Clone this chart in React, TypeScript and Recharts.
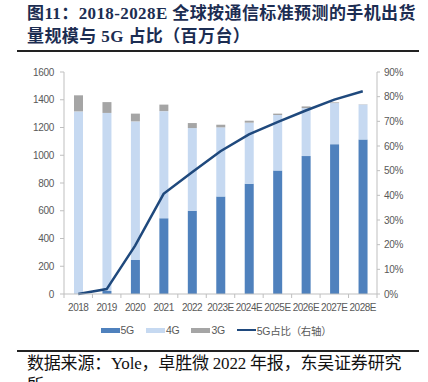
import { Bar, ComposedChart, Legend, Line, XAxis, YAxis } from 'recharts'

const years = ['2018', '2019', '2020', '2021', '2022', '2023E', '2024E', '2025E', '2026E', '2027E', '2028E']
const shipments5G = [0, 22, 245, 546, 600, 703, 794, 890, 994, 1080, 1114]
const shipments4G = [1316, 1283, 999, 772, 596, 498, 441, 400, 346, 296, 251]
const shipments3G = [116, 78, 56, 47, 36, 19, 14, 10, 12, 5, 2]
const share5G = [0, 2.0, 19.6, 40.6, 49.4, 57.9, 64.7, 69.7, 74.4, 78.8, 82.2]

const leftTicks = [0, 200, 400, 600, 800, 1000, 1200, 1400, 1600]
const rightTicks = [0, 10, 20, 30, 40, 50, 60, 70, 80, 90]

const data = years.map((year, i) => ({
  year,
  g5: shipments5G[i],
  g4: shipments4G[i],
  g3: shipments3G[i],
  share: share5G[i],
}))

const AXIS_GRAY = '#BFBFBF'
const TEXT_GRAY = '#595959'
const SANS = '"Liberation Sans", Arial, sans-serif'
const tickFont = { fontSize: 10, fill: TEXT_GRAY, fontFamily: SANS, style: { letterSpacing: -0.3 } }

const legendItems = [
  { label: '5G', color: '#4F81BD', kind: 'bar' },
  { label: '4G', color: '#C6D9F1', kind: 'bar' },
  { label: '3G', color: '#A5A5A5', kind: 'bar' },
  { label: '5G占比（右轴）', color: '#1F497D', kind: 'line' },
]

// plot spans 64..377 px, 11 categories
const STEP = 313 / years.length

function YearTick(props: any) {
  const { x, y, payload, index } = props
  return (
    <g>
      <line x1={x - STEP / 2} x2={x - STEP / 2} y1={y - 8} y2={y - 4} stroke={AXIS_GRAY} />
      {index === years.length - 1 && (
        <line x1={x + STEP / 2} x2={x + STEP / 2} y1={y - 8} y2={y - 4} stroke={AXIS_GRAY} />
      )}
      <text x={x} y={y} dy={9} textAnchor="middle" {...tickFont} style={{ letterSpacing: -0.5 }}>
        {payload.value}
      </text>
    </g>
  )
}

function ChartLegend() {
  return (
    <div
      style={{
        display: 'flex',
        justifyContent: 'center',
        alignItems: 'center',
        fontSize: 10.5,
        letterSpacing: -0.3,
        color: TEXT_GRAY,
        fontFamily: SANS + ', "Noto Sans CJK SC"',
        height: 16,
      }}
    >
      {legendItems.map((item) => (
        <div key={item.label} style={{ display: 'flex', alignItems: 'center', marginRight: 12 }}>
          <span
            style={{
              display: 'inline-block',
              width: 19,
              height: item.kind === 'bar' ? 5 : 2,
              background: item.color,
              marginRight: 1,
            }}
          />
          <span>{item.label}</span>
        </div>
      ))}
    </div>
  )
}

export default function App() {
  return (
    <div
      style={{
        position: 'absolute',
        left: 0,
        top: 0,
        width: 428,
        height: 382,
        overflow: 'hidden',
        background: '#fff',
      }}
    >
      <div
        style={{
          position: 'absolute',
          left: 27,
          top: 2,
          fontFamily: '"Liberation Serif", "Noto Sans CJK SC", serif',
          fontWeight: 700,
          fontSize: 17,
          lineHeight: '23px',
          letterSpacing: 0.4,
          color: '#1C2D52',
          whiteSpace: 'nowrap',
          zIndex: 2,
        }}
      >
        <div>图11：2018-2028E 全球按通信标准预测的手机出货</div>
        <div>量规模与 5G 占比（百万台）</div>
      </div>
      <div style={{ position: 'absolute', left: 17, top: 50, width: 402, height: 2, background: '#222' }} />

      <div style={{ position: 'absolute', left: 0, top: 0 }}>
        <ComposedChart width={428} height={382} data={data} margin={{ top: 72, right: 0, left: 0, bottom: 52 }}>
          <XAxis
            dataKey="year"
            stroke={AXIS_GRAY}
            tickLine={false}
            tickSize={4}
            tickMargin={4}
            height={20}
            interval={0}
            tick={<YearTick />}
          />
          <YAxis
            yAxisId="left"
            domain={[0, 1600]}
            ticks={leftTicks}
            width={64}
            stroke={AXIS_GRAY}
            tickSize={4}
            tickMargin={6}
            tick={tickFont}
            interval={0}
          />
          <YAxis
            yAxisId="right"
            orientation="right"
            domain={[0, 90]}
            ticks={rightTicks}
            width={51}
            stroke={AXIS_GRAY}
            tickSize={3}
            tickMargin={4}
            tick={tickFont}
            tickFormatter={(v) => `${v}%`}
            interval={0}
          />
          <Legend verticalAlign="bottom" content={<ChartLegend />} wrapperStyle={{ top: 322, left: 8, width: 428 }} />
          <Bar yAxisId="left" dataKey="g5" name="5G" stackId="s" fill="#4F81BD" barSize={9} isAnimationActive={false} />
          <Bar yAxisId="left" dataKey="g4" name="4G" stackId="s" fill="#C6D9F1" barSize={9} isAnimationActive={false} />
          <Bar yAxisId="left" dataKey="g3" name="3G" stackId="s" fill="#A5A5A5" barSize={9} isAnimationActive={false} />
          <Line
            yAxisId="right"
            type="linear"
            dataKey="share"
            name="5G占比（右轴）"
            stroke="#1F497D"
            strokeWidth={2.5}
            dot={false}
            isAnimationActive={false}
          />
        </ComposedChart>
      </div>

      <div style={{ position: 'absolute', left: 17, top: 350, width: 402, height: 1.5, background: '#222' }} />
      <div
        style={{
          position: 'absolute',
          left: 27,
          top: 353,
          fontFamily: '"Liberation Serif", "Noto Sans CJK SC", serif',
          fontSize: 17,
          lineHeight: '22px',
          letterSpacing: -0.2,
          color: '#111',
          whiteSpace: 'nowrap',
        }}
      >
        <div>数据来源：Yole，卓胜微 2022 年报，东吴证券研究</div>
        <div>所</div>
      </div>
    </div>
  )
}
